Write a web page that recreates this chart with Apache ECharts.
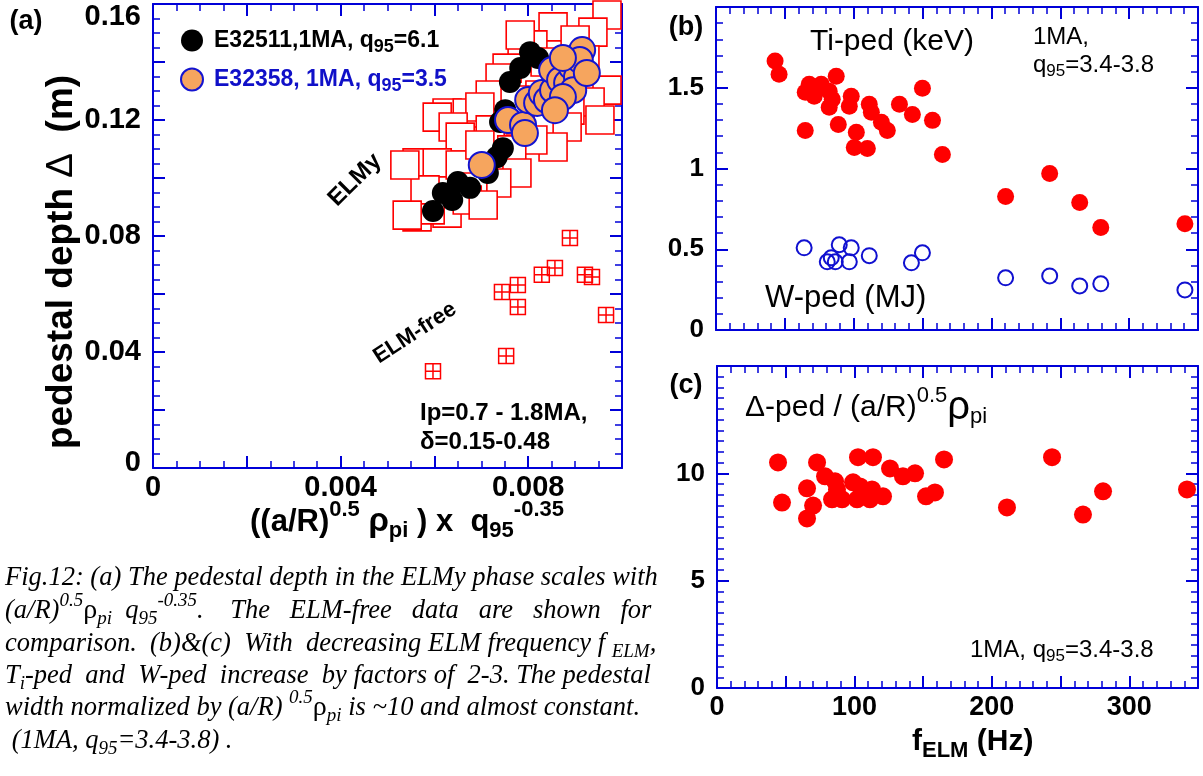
<!DOCTYPE html>
<html>
<head>
<meta charset="utf-8">
<script src="https://cdn.jsdelivr.net/npm/echarts@6/dist/echarts.min.js"></script>
<style>html,body{margin:0;padding:0;background:#fff}#main{width:1203px;height:776px}</style>
</head>
<body>
<div id="main"></div>
<script>
// (a) pedestal depth vs (a/R)^0.5 rho_pi q95^-0.35
var elmyAll = [
  [0.00968,0.1562],[0.00938,0.1503],[0.00853,0.1521],[0.00900,0.1476],[0.00810,0.1459],
  [0.00787,0.1414],[0.00755,0.1379],[0.00740,0.1345],[0.00836,0.1400],[0.00921,0.1407],
  [0.00968,0.1303],[0.00932,0.1262],[0.00889,0.1234],[0.00719,0.1286],[0.00627,0.1224],
  [0.00606,0.1210],[0.00670,0.1224],[0.00697,0.1245],[0.00640,0.1176],[0.00655,0.1141],
  [0.00719,0.1166],[0.00883,0.1176],[0.00853,0.1107],[0.00810,0.1131],[0.00765,0.1097],
  [0.00563,0.1052],[0.00606,0.1052],[0.00655,0.1045],[0.00776,0.1017],[0.00733,0.0983],
  [0.00682,0.0969],[0.00563,0.0866],[0.00627,0.0879],[0.00670,0.0924],[0.00591,0.0890],
  [0.00704,0.0907],[0.00783,0.1200],[0.00825,0.1286],[0.00772,0.1269],[0.00697,0.1114],
  [0.00580,0.0959],[0.00953,0.1200],[0.00868,0.1303],[0.00783,0.1493],[0.00537,0.1045],
  [0.00542,0.0872]
];
var elmFree = [
  [0.00889,0.0793],[0.00829,0.0666],[0.00857,0.0690],[0.00921,0.0666],[0.00936,0.0659],
  [0.00744,0.0607],[0.00778,0.0631],[0.00778,0.0555],[0.00966,0.0528],[0.00753,0.0386],
  [0.00597,0.0334]
];
var e32511 = [
  [0.00597,0.0886],[0.00618,0.0948],[0.00638,0.0924],[0.00650,0.0986],[0.00676,0.0966],
  [0.00697,0.1038],[0.00714,0.1017],[0.00733,0.1072],[0.00746,0.1103],[0.00740,0.1193],
  [0.00751,0.1234],[0.00761,0.1331],[0.00783,0.1379],[0.00804,0.1434],[0.00821,0.1414]
];
var e32358 = [
  [0.00701,0.1045],[0.00757,0.1200],[0.00789,0.1183],[0.00793,0.1155],[0.00800,0.1269],
  [0.00819,0.1259],[0.00829,0.1293],[0.00840,0.1269],[0.00853,0.1303],[0.00851,0.1372],
  [0.00868,0.1338],[0.00883,0.1328],[0.00893,0.1383],[0.00904,0.1348],[0.00915,0.1441],
  [0.00910,0.1407],[0.00896,0.1303],[0.00874,0.1279],[0.00857,0.1234],[0.00925,0.1362],
  [0.00874,0.1414]
];
// (b) f_ELM (Hz) vs Ti-ped (keV) and W-ped (MJ)
var tiPed = [
  [42.9,1.665],[45.8,1.584],[64.8,1.472],[67.7,1.522],[71.3,1.447],[76.4,1.522],
  [82.2,1.478],[87.3,1.571],[82.2,1.379],[84.4,1.429],[64.8,1.236],[88.8,1.273],
  [98.2,1.447],[96.8,1.385],[101.9,1.224],[100.4,1.130],[109.9,1.124],[111.3,1.398],
  [112.8,1.348],[120.1,1.286],[124.4,1.236],[133.2,1.398],[142.6,1.335],[149.9,1.497],
  [157.2,1.298],[164.4,1.087],[210.3,0.826],[242.3,0.969],[264.1,0.789],[279.4,0.634],
  [340.5,0.658]
];
var wPed = [
  [64.0,0.509],[80.8,0.422],[83.7,0.447],[86.6,0.422],[89.5,0.528],[98.2,0.509],
  [96.8,0.422],[111.3,0.460],[141.9,0.416],[149.9,0.478],[210.3,0.323],[242.3,0.335],
  [264.1,0.273],[279.4,0.286],[340.5,0.248]
];
// (c) f_ELM vs normalised pedestal width
var normWidth = [
  [44.4,10.51],[47.3,8.64],[65.5,9.30],[69.9,8.50],[65.5,7.90],[72.8,10.51],
  [78.6,9.86],[85.9,9.63],[83.7,8.79],[91.0,8.79],[87.3,9.25],[99.0,9.58],
  [102.6,10.75],[104.1,9.39],[101.9,8.79],[111.3,8.79],[112.8,9.25],[113.5,10.75],
  [120.8,8.93],[125.9,10.23],[135.3,9.86],[144.1,10.0],[152.1,8.93],[158.6,9.11],
  [165.2,10.65],[211.0,8.41],[243.8,10.75],[266.3,8.08],[280.9,9.16],[342.0,9.25]
];
// tick labels
var aXLabels = [0, 0.004, 0.008];
var aYLabels = [0, 0.04, 0.08, 0.12, 0.16];
var bYLabels = [0, 0.5, 1, 1.5];
var cXLabels = [0, 100, 200, 300];
var cYLabels = [0, 5, 10];

var BLUE = '#0000d8';
var RED = '#ff0000';
var SANS = '"Liberation Sans", Arial, sans-serif';
var SERIF = '"Liberation Serif", "Times New Roman", serif';

function onList(list, v) {
  for (var i = 0; i < list.length; i++) {
    if (Math.abs(list[i] - v) < 1e-9) return true;
  }
  return false;
}

function mkAxis(gi, pos, min, max, step, split, lab) {
  var ax = {
    type: 'value', gridIndex: gi, position: pos, min: min, max: max, interval: step,
    axisLine: { show: true, onZero: false, lineStyle: { color: BLUE, width: 2 } },
    axisTick: { show: true, inside: true, length: 12, lineStyle: { color: BLUE, width: 2 } },
    minorTick: { show: true, splitNumber: split, length: 7, lineStyle: { color: BLUE, width: 1.5 } },
    splitLine: { show: false },
    minorSplitLine: { show: false },
    axisLabel: { show: false }
  };
  if (lab) {
    var lbl = {
      fontSize: lab.size, fontWeight: 'bold', fontFamily: SANS, color: '#000'
    };
    ax.axisLabel = {
      show: true, margin: lab.margin, color: '#000', fontFamily: SANS,
      fontWeight: 'bold', fontSize: lab.size,
      formatter: function (v) {
        if (!onList(lab.list, v)) return '';
        var s = String(+v.toFixed(4));
        if (lab.top != null && Math.abs(v - lab.top) < 1e-9) return '{hi|' + s + '}';
        if (lab.low && v === min) return '{lo|' + s + '}';
        return s;
      },
      rich: {
        hi: Object.assign({ padding: [26, 0, 0, 0] }, lbl),
        lo: Object.assign({ padding: [0, 0, 10, 0] }, lbl)
      }
    };
  }
  return ax;
}

// rich styles for sub/superscripts in free text
function richFor(b) {
  var s = Math.round(b.size * 0.72);
  function st(size, extra) {
    return Object.assign({
      fontSize: size, fontWeight: b.weight || 'normal', fontStyle: b.style || 'normal',
      fontFamily: b.family || SANS, fill: b.color || '#000'
    }, extra || {});
  }
  return {
    sup: st(s, { padding: [0, 0, Math.round(b.size * 0.8), 0] }),
    sub: st(s, { padding: [Math.round(b.size * 0.55), 0, 0, 0] }),
    g: st(b.gsize || b.size, { fontStyle: 'normal' }),
    n: st(b.size, { fontWeight: 'normal' })
  };
}

function txt(x, y, text, b, opt) {
  opt = opt || {};
  return {
    type: 'text', x: x, y: y, rotation: opt.rot || 0, silent: true,
    style: {
      text: text, fontSize: b.size, fontWeight: b.weight || 'normal',
      fontStyle: b.style || 'normal', fontFamily: b.family || SANS,
      fill: b.color || '#000', textAlign: opt.align || 'left', textVerticalAlign: 'middle',
      rich: richFor(b)
    }
  };
}

var boldBig = { size: 27, weight: 'bold' };
var capF = { size: 26.5, style: 'italic', family: SERIF, gsize: 28 };

var chart = echarts.init(document.getElementById('main'));
chart.setOption({
  animation: false,
  textStyle: { fontFamily: SANS },
  grid: [
    { left: 153, top: 4, width: 469, height: 464 },
    { left: 716, top: 7, width: 482, height: 323 },
    { left: 717, top: 366, width: 481, height: 322 }
  ],
  xAxis: [
    mkAxis(0, 'bottom', 0, 0.01, 0.002, 4, { list: aXLabels, size: 29, margin: 5 }),
    mkAxis(0, 'top', 0, 0.01, 0.002, 4),
    mkAxis(1, 'bottom', 0, 350, 50, 5),
    mkAxis(1, 'top', 0, 350, 50, 5),
    mkAxis(2, 'bottom', 0, 350, 50, 5, { list: cXLabels, size: 27, margin: 6 }),
    mkAxis(2, 'top', 0, 350, 50, 5)
  ],
  yAxis: [
    mkAxis(0, 'left', 0, 0.16, 0.02, 4, { list: aYLabels, size: 29, margin: 12, top: 0.16, low: true }),
    mkAxis(0, 'right', 0, 0.16, 0.02, 4),
    mkAxis(1, 'left', 0, 2, 0.5, 5, { list: bYLabels, size: 26, margin: 12 }),
    mkAxis(1, 'right', 0, 2, 0.5, 5),
    mkAxis(2, 'left', 0, 15, 5, 10, { list: cYLabels, size: 26, margin: 12 }),
    mkAxis(2, 'right', 0, 15, 5, 10)
  ],
  legend: {
    orient: 'vertical', left: 175, top: 24, itemWidth: 34, itemHeight: 22, itemGap: 11,
    selectedMode: false,
    data: [
      { name: 'E32511', icon: 'circle', textStyle: { color: '#000' } },
      { name: 'E32358', icon: 'circle', textStyle: { color: '#1010c8' } }
    ],
    formatter: function (name) {
      return name === 'E32511' ? 'E32511,1MA, q{s|95}=6.1' : 'E32358, 1MA, q{b|95}=3.5';
    },
    textStyle: {
      fontSize: 23, fontWeight: 'bold', fontFamily: SANS,
      rich: {
        s: { fontSize: 18, fontWeight: 'bold', fontFamily: SANS, color: '#000', padding: [14, 0, 0, 0] },
        b: { fontSize: 18, fontWeight: 'bold', fontFamily: SANS, color: '#1010c8', padding: [14, 0, 0, 0] }
      }
    }
  },
  series: [
    {
      name: 'ELMy', type: 'scatter', xAxisIndex: 0, yAxisIndex: 0, data: elmyAll,
      symbol: 'rect', symbolSize: 28, silent: true,
      itemStyle: { color: '#fff', borderColor: RED, borderWidth: 1.6, opacity: 1 }
    },
    {
      name: 'ELM-free', type: 'scatter', xAxisIndex: 0, yAxisIndex: 0, data: elmFree,
      symbol: 'path://M0,0H10V10H0Z M5,0V10 M0,5H10', symbolSize: 15, silent: true,
      itemStyle: { color: 'rgba(255,255,255,0)', borderColor: RED, borderWidth: 1.5, opacity: 1 }
    },
    {
      name: 'E32511', type: 'scatter', xAxisIndex: 0, yAxisIndex: 0, data: e32511,
      symbol: 'circle', symbolSize: 22, silent: true,
      itemStyle: { color: '#000', opacity: 1 }
    },
    {
      name: 'E32358', type: 'scatter', xAxisIndex: 0, yAxisIndex: 0, data: e32358,
      symbol: 'circle', symbolSize: 26, silent: true,
      itemStyle: { color: '#f6a55e', borderColor: '#1414d0', borderWidth: 2, opacity: 1 }
    },
    {
      name: 'Ti-ped', type: 'scatter', xAxisIndex: 2, yAxisIndex: 2, data: tiPed,
      symbol: 'circle', symbolSize: 17, silent: true,
      itemStyle: { color: RED, opacity: 1 }
    },
    {
      name: 'W-ped', type: 'scatter', xAxisIndex: 2, yAxisIndex: 2, data: wPed,
      symbol: 'circle', symbolSize: 15, silent: true,
      itemStyle: { color: 'rgba(255,255,255,0)', borderColor: '#1010d0', borderWidth: 2, opacity: 1 }
    },
    {
      name: 'width', type: 'scatter', xAxisIndex: 4, yAxisIndex: 4, data: normWidth,
      symbol: 'circle', symbolSize: 18, silent: true,
      itemStyle: { color: RED, opacity: 1 }
    }
  ],
  graphic: [
    txt(26, 22, '(a)', boldBig, { align: 'center' }),
    txt(686, 28, '(b)', boldBig, { align: 'center' }),
    txt(686, 386, '(c)', boldBig, { align: 'center' }),
    txt(62, 262, 'pedestal depth {n|Δ}  (m)', { size: 37, weight: 'bold' }, { align: 'center', rot: Math.PI / 2 }),
    txt(407, 522, '((a/R){sup|0.5} {g|ρ}{sub|pi} ) x  q{sub|95}{sup|-0.35}', { size: 31, weight: 'bold', gsize: 33 }, { align: 'center' }),
    txt(355, 180, 'ELMy', { size: 24, weight: 'bold' }, { align: 'center', rot: Math.PI / 4 }),
    txt(415, 333, 'ELM-free', { size: 22, weight: 'bold' }, { align: 'center', rot: 0.58 }),
    txt(420, 413, 'Ip=0.7 - 1.8MA,', { size: 24, weight: 'bold' }),
    txt(420, 442, 'δ=0.15-0.48', { size: 24, weight: 'bold' }),
    txt(810, 42, 'Ti-ped (keV)', { size: 30 }),
    txt(1033, 37, '1MA,', { size: 24 }),
    txt(1033, 65, 'q{sub|95}=3.4-3.8', { size: 24 }),
    txt(765, 298, 'W-ped (MJ)', { size: 31 }),
    txt(745, 408, 'Δ-ped / (a/R){sup|0.5}{g|ρ}{sub|pi}', { size: 30, gsize: 40 }),
    txt(970, 650, '1MA, q{sub|95}=3.4-3.8', { size: 24 }),
    txt(912, 742, 'f{sub|ELM} (Hz)', { size: 30, weight: 'bold' }),
    txt(5, 578, 'Fig.12: (a) The pedestal depth in the ELMy phase scales with', capF),
    txt(5, 611, '(a/R){sup|0.5}{g|ρ}{sub|pi}  q{sub|95}{sup|-0.35}.    The   ELM-free   data   are   shown   for', capF),
    txt(5, 644, 'comparison.  (b)&(c)  With  decreasing ELM frequency f {sub|ELM},', capF),
    txt(5, 676, 'T{sub|i}-ped  and  W-ped  increase  by factors of  2-3. The pedestal', capF),
    txt(5, 708, 'width normalized by (a/R) {sup|0.5}{g|ρ}{sub|pi} is ~10 and almost constant.', capF),
    txt(5, 741, ' (1MA, q{sub|95}=3.4-3.8) .', capF)
  ]
});
</script>
</body>
</html>
